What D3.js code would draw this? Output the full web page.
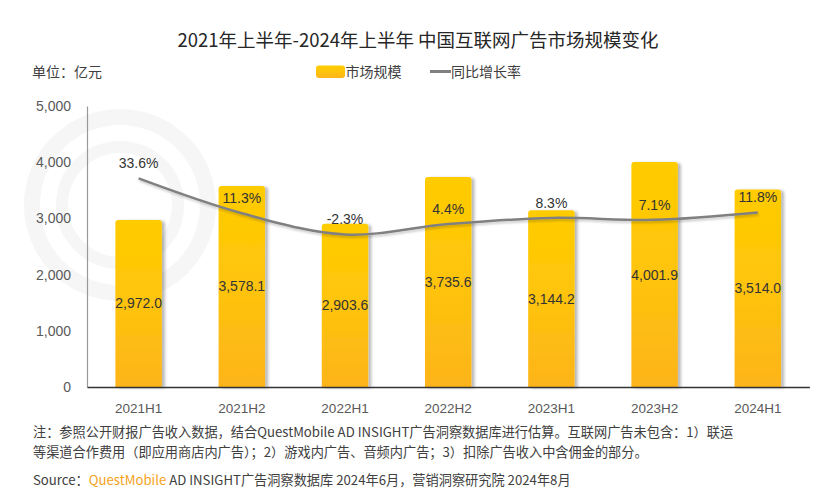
<!DOCTYPE html>
<html><head><meta charset="utf-8">
<script src="https://cdn.jsdelivr.net/npm/d3@7"></script>
<style>
html,body{margin:0;padding:0;background:#fff;}
svg{display:block;}
</style></head>
<body>
<svg id="chart" width="835" height="493"></svg>
<script>
const categories = ["2021H1","2021H2","2022H1","2022H2","2023H1","2023H2","2024H1"];
const marketSize = [2972.0, 3578.1, 2903.6, 3735.6, 3144.2, 4001.9, 3514.0];
const growthRate = [33.6, 11.3, -2.3, 4.4, 8.3, 7.1, 11.8];
const yTicks = [0, 1000, 2000, 3000, 4000, 5000];

(function(){
const CJK = "'Noto Sans CJK SC','Noto Sans',sans-serif";
const NUM = "'Liberation Sans',Arial,'Noto Sans CJK SC',sans-serif";

const svg = d3.select("#chart");
const defs = svg.append("defs");
const grad = defs.append("linearGradient").attr("id","barGrad").attr("x1",0).attr("y1",0).attr("x2",0).attr("y2",1);
grad.append("stop").attr("offset","0%").attr("stop-color","#FFCC00");
grad.append("stop").attr("offset","45%").attr("stop-color","#FFC50A");
grad.append("stop").attr("offset","100%").attr("stop-color","#FDB41B");
const f = defs.append("filter").attr("id","shadow").attr("x","-20%").attr("y","-20%").attr("width","150%").attr("height","140%");
f.append("feDropShadow").attr("dx",3).attr("dy",1).attr("stdDeviation",1.8).attr("flood-color","#000").attr("flood-opacity",0.28);
const f2 = defs.append("filter").attr("id","lshadow").attr("x","-10%").attr("y","-50%").attr("width","120%").attr("height","200%");
f2.append("feDropShadow").attr("dx",1).attr("dy",2).attr("stdDeviation",1.2).attr("flood-color","#000").attr("flood-opacity",0.2);

const pLeft = 87, pRight = 809.4, pTop = 106, pBottom = 387;
const x = d3.scaleBand().domain(categories).range([pLeft, pRight]).paddingInner(0.55).paddingOuter(0.275);
const y = d3.scaleLinear().domain([0, 5000]).range([pBottom, pTop]);
const y2 = d3.scaleLinear().domain([-100, 80]).range([pBottom, pTop]);

// watermark rings (faint logo)
const wm = svg.append("g").attr("fill","none").attr("stroke","#f6f6f6");
wm.append("circle").attr("cx",120).attr("cy",205).attr("r",88).attr("stroke-width",16);
wm.append("circle").attr("cx",120).attr("cy",205).attr("r",58).attr("stroke-width",12);

// title
svg.append("text").attr("x",418).attr("y",47).attr("text-anchor","middle")
  .attr("font-family",CJK).attr("font-size",18.5).attr("font-weight",400).attr("fill","#262626")
  .text("2021年上半年-2024年上半年 中国互联网广告市场规模变化");

// unit
svg.append("text").attr("x",32).attr("y",77).attr("font-family",CJK).attr("font-size",14).attr("fill","#404040").text("单位：亿元");

// legend
svg.append("rect").attr("x",316).attr("y",65.5).attr("width",29).attr("height",12.5).attr("rx",3).attr("fill","url(#barGrad)");
svg.append("text").attr("x",345.5).attr("y",77).attr("font-family",CJK).attr("font-size",14).attr("fill","#404040").text("市场规模");
svg.append("line").attr("x1",430).attr("x2",451).attr("y1",71.5).attr("y2",71.5).attr("stroke","#808080").attr("stroke-width",3);
svg.append("text").attr("x",451).attr("y",77).attr("font-family",CJK).attr("font-size",14).attr("fill","#404040").text("同比增长率");

// y axis
const yAxis = d3.axisLeft(y).tickValues(yTicks).tickFormat(d3.format(",")).tickSize(0).tickPadding(16);
const gy = svg.append("g").attr("transform",`translate(${pLeft},0)`).call(yAxis);
gy.select(".domain").attr("stroke","#999").attr("stroke-width",1.2);
gy.selectAll("text").attr("font-family",NUM).attr("font-size",14).attr("fill","#595959");

// bars
const bw = x.bandwidth();
const r = 3;
svg.append("g").selectAll("path").data(categories).join("path")
  .attr("d",(c,i)=>{
    const x0 = x(c), x1 = x0 + bw, y0 = y(marketSize[i]), yb = y(0);
    return `M${x0},${yb}L${x0},${y0+r}Q${x0},${y0} ${x0+r},${y0}L${x1-r},${y0}Q${x1},${y0} ${x1},${y0+r}L${x1},${yb}Z`;
  })
  .attr("fill","url(#barGrad)").attr("filter","url(#shadow)");

// x axis
const xAxis = d3.axisBottom(x).tickSize(0).tickPadding(16);
const gx = svg.append("g").attr("transform",`translate(0,${pBottom})`).call(xAxis);
gx.select(".domain").attr("stroke","#333").attr("stroke-width",1.3);
gx.selectAll("text").attr("font-family",NUM).attr("font-size",13.5).attr("fill","#595959");

// bar labels
svg.append("g").selectAll("text").data(categories).join("text")
  .attr("x",c=>x(c)+bw/2)
  .attr("y",(c,i)=>(y(marketSize[i])+y(0))/2+5)
  .attr("text-anchor","middle").attr("font-family",NUM).attr("font-size",14).attr("fill","#333")
  .text((c,i)=>d3.format(",.1f")(marketSize[i]));

// line
const line = d3.line().x((d,i)=>x(categories[i])+bw/2).y(d=>y2(d)).curve(d3.curveCatmullRom.alpha(0.5));
svg.append("path").datum(growthRate).attr("d",line).attr("fill","none")
  .attr("stroke","#808080").attr("stroke-width",2.5).attr("filter","url(#lshadow)");

svg.append("g").selectAll("text").data(growthRate).join("text")
  .attr("x",(d,i)=>x(categories[i])+bw/2)
  .attr("y",d=>y2(d)-10)
  .attr("text-anchor","middle").attr("font-family",NUM).attr("font-size",14).attr("fill","#333")
  .text(d=>d.toFixed(1)+"%");

// footnotes
const foot = svg.append("g").attr("font-family",CJK).attr("font-size",13.2).attr("fill","#404040");
foot.append("text").attr("x",33).attr("y",437).text("注：参照公开财报广告收入数据，结合QuestMobile AD INSIGHT广告洞察数据库进行估算。互联网广告未包含：1）联运");
foot.append("text").attr("x",33).attr("y",456.5).text("等渠道合作费用（即应用商店内广告）；2）游戏内广告、音频内广告；3）扣除广告收入中含佣金的部分。");
const src = foot.append("text").attr("x",33).attr("y",485);
src.append("tspan").text("Source：");
src.append("tspan").attr("fill","#F5A21B").text("QuestMobile");
src.append("tspan").text(" AD INSIGHT广告洞察数据库 2024年6月，营销洞察研究院 2024年8月");
})();
</script>
</body></html>
